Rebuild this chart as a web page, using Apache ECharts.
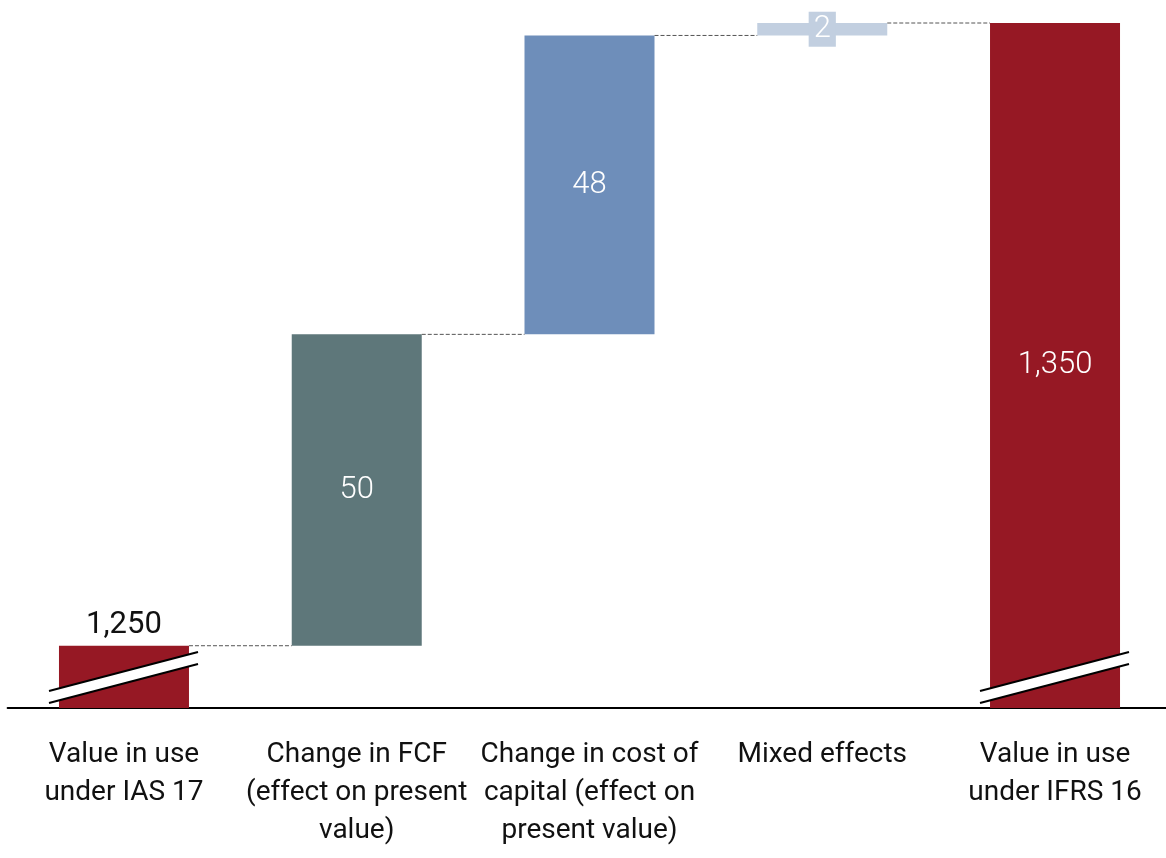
<!DOCTYPE html>
<html>
<head>
<meta charset="utf-8">
<script src="https://cdn.jsdelivr.net/npm/echarts@6/dist/echarts.min.js"></script>
<style>
html,body{margin:0;padding:0;background:#fff;}
#chart{width:1166px;height:858px;}
</style>
</head>
<body>
<div id="chart"></div>
<script>
const categories = [
  'Value in use\nunder IAS 17',
  'Change in FCF\n(effect on present\nvalue)',
  'Change in cost of\ncapital (effect on\npresent value)',
  'Mixed effects',
  'Value in use\nunder IFRS 16'
];
const barValues = [1250, 50, 48, 2, 1350];
const isTotal = [true, false, false, false, true];
const barColors = ['#961824', '#5E777A', '#6E8EBA', '#C2CFE0', '#961824'];
const axisMin = 1240;
const axisMax = 1350;

const FONT = 'Roboto, sans-serif';
const BAR_W = 130;

const baseValues = [];
const topValues = [];
let running = 0;
for (let i = 0; i < barValues.length; i++) {
  if (isTotal[i]) {
    baseValues.push(0);
    running = barValues[i];
    topValues.push(running);
  } else {
    baseValues.push(running);
    running += barValues[i];
    topValues.push(running);
  }
}

const visibleData = barValues.map((v, i) => {
  const item = { value: v, itemStyle: { color: barColors[i] } };
  if (i === 0) {
    item.label = { show: true, position: 'top', distance: 5, color: '#111', fontWeight: 400 };
  } else if (i === 3) {
    item.label = { show: true, position: 'inside', color: '#fff', backgroundColor: barColors[i], padding: [2, 5] };
  } else {
    item.label = { show: true, position: 'inside', color: '#fff' };
  }
  return item;
});

const connectorData = [];
for (let i = 0; i < barValues.length - 1; i++) {
  connectorData.push([i, topValues[i]]);
}
const breakData = [];
for (let i = 0; i < barValues.length; i++) {
  if (isTotal[i]) breakData.push([i, axisMin]);
}

const chart = echarts.init(document.getElementById('chart'));
chart.setOption({
  animation: false,
  backgroundColor: '#fff',
  textStyle: { fontFamily: FONT },
  grid: { left: 7.6, width: 1163.8, top: 23, bottom: 150, containLabel: false, outerBoundsMode: 'none' },
  xAxis: {
    type: 'category',
    data: categories,
    axisLine: { show: true, lineStyle: { color: '#000', width: 2 } },
    axisTick: { show: false },
    axisLabel: {
      interval: 0, color: '#111', fontSize: 28, fontWeight: 400, lineHeight: 38,
      margin: 28, fontFamily: FONT, align: 'center', hideOverlap: false
    },
    splitLine: { show: false }
  },
  yAxis: {
    type: 'value', min: axisMin, max: axisMax, show: false,
    splitLine: { show: false }
  },
  series: [
    {
      type: 'bar', stack: 'wf', barWidth: BAR_W, silent: true,
      itemStyle: { color: 'transparent' },
      data: baseValues
    },
    {
      type: 'bar', stack: 'wf', barWidth: BAR_W,
      label: {
        fontSize: 31, fontWeight: 300, fontFamily: FONT,
        formatter: p => p.value.toLocaleString('en-US')
      },
      data: visibleData
    },
    {
      type: 'custom', z: 5, silent: true,
      data: connectorData,
      renderItem: function (params, api) {
        const idx = api.value(0);
        const p = api.coord([idx, api.value(1)]);
        const step = api.size([1, 0])[0];
        return {
          type: 'line',
          shape: { x1: p[0] + BAR_W / 2, y1: p[1], x2: p[0] + step - BAR_W / 2, y2: p[1] },
          style: { stroke: '#555', lineWidth: 1, lineDash: [4, 2] }
        };
      }
    },
    {
      type: 'custom', z: 6, silent: true,
      data: breakData,
      renderItem: function (params, api) {
        const p = api.coord([api.value(0), api.value(1)]);
        const cx = p[0], y = p[1];
        const L = cx - 75, R = cx + 74;
        return {
          type: 'group',
          children: [
            { type: 'polygon', shape: { points: [[L, y - 17], [R, y - 56], [R, y - 44], [L, y - 5]] }, style: { fill: '#fff' } },
            { type: 'line', shape: { x1: L, y1: y - 17, x2: R, y2: y - 56 }, style: { stroke: '#000', lineWidth: 2 } },
            { type: 'line', shape: { x1: L, y1: y - 5, x2: R, y2: y - 44 }, style: { stroke: '#000', lineWidth: 2 } }
          ]
        };
      }
    }
  ]
});
</script>
</body>
</html>
